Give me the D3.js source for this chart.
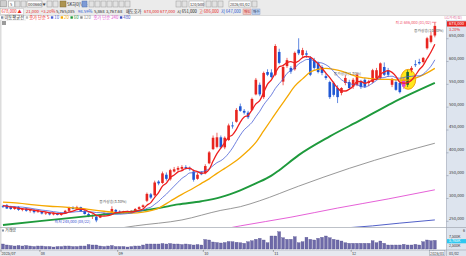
<!DOCTYPE html>
<html><head><meta charset="utf-8">
<script src="https://cdn.jsdelivr.net/npm/d3@7/dist/d3.min.js"></script>
<style>html,body{margin:0;padding:0;background:#fff}svg{display:block}text{font-family:"Noto Sans CJK KR","Noto Sans",sans-serif}</style>
</head><body><svg id="chart" width="466" height="256"></svg>
<script>
// ---------------- data ----------------
const monthKeys = ["2025-07","2025-08","2025-09","2025-10","2025-11","2025-12","2026-01"];
const monthDays = [
 [18,21,22,23,24,25,28,29,30,31],
 [1,4,5,6,7,8,11,12,13,14,18,19,20,21,22,25,26,27,28,29],
 [1,2,3,4,5,8,9,10,11,12,15,16,17,18,19,22,23,24,25,26,29,30],
 [1,2,10,13,14,15,16,17,20,21,22,23,24,27,28,29,30,31],
 [3,4,5,6,7,10,11,12,13,14,17,18,19,20,21,24,25,26,27,28],
 [1,2,3,4,5,8,9,10,11,12,15,16,17,18,19,22,23,24,26,29,30],
 [2]
];
const monthLabels = ["2025/07","08","09","10","11","12","2026/01"];
// prices in thousands of won
const openK = [283,285,281,277,281,275,278,273,275,270, 272,267,269,265,268,264,267,273,280,277,
 281,272,266,261,260,258,264,267,266,275, 271,269,272,269,273,277,281,295,309,307,
 337,334,352,342,359,363,365,369,367,359, 343,357,355,377,408,413,434,412,428,460,
 468,502,492,488,494,528,549,522,577,576, 571,621,556,590,586,583,626,614,618,608,
 603,597,588,568,555,553,542,531,553,555, 545,549,555,560,553,555,564,564,588,581,
 549,555,553,545,549,581,594,599,599,629, 643,657];
const highK = [286,288,284,283,283,279,280,277,277,275, 273,271,270,269,269,269,275,282,283,284,
 282,275,269,265,263,265,269,269,283,277, 274,273,273,274,279,283,287,313,312,339,
 340,359,357,365,369,371,373,373,370,363, 357,360,375,404,438,444,438,436,464,468,
 498,508,496,492,521,564,554,578,583,583, 638,628,593,608,590,622,651,630,624,612,
 608,600,592,574,558,556,548,544,570,560, 564,574,560,564,560,584,586,598,598,586,
 564,560,556,564,581,590,603,606,610,654, 665,686];
const lowK = [279,277,275,275,273,272,271,269,267,269, 265,264,263,263,263,262,266,272,276,275,
 271,265,259,255,248,257,262,263,265,269, 267,267,268,268,272,276,280,292,299,305,
 329,332,339,339,357,359,361,363,361,337, 341,351,353,375,406,410,410,408,426,453,
 466,490,484,474,492,526,524,518,568,563, 568,594,548,586,573,580,614,610,608,568,
 582,574,570,560,518,523,509,526,548,538, 540,546,540,542,546,552,560,560,568,566,
 544,536,530,540,544,576,588,593,596,626, 640,653];
const closeK = [282,278,277,281,275,277,273,275,270,272, 267,269,265,268,264,267,273,280,277,281,
 272,266,261,263,252,264,267,265,277,271, 269,272,269,273,277,281,285,310,302,335,
 333,355,343,362,364,367,369,367,364,341, 352,353,371,401,433,434,412,433,460,458,
 494,492,488,478,518,560,528,575,571,566, 634,597,588,603,578,619,618,625,615,571,
 586,577,575,564,522,527,522,542,564,542, 560,571,544,545,556,581,581,596,571,571,
 562,538,533,560,577,586,592,596,608,651, 657,678];
const priorCloseK = [285,283,281,284,282,283,287,286,284];
// volume in thousands of shares
const volK = [3330,2670,2330,2000,2330,2000,2330,2000,1670,2000, 2000,1670,1670,1330,1670,1670,2000,2000,1670,1670,
 2000,2000,3000,2670,2670,2000,1670,2000,2330,1670, 1670,1670,1330,1670,2000,2000,2670,3330,3330,3330,
 3330,3670,3330,3670,3330,3330,3000,3330,3000,2670, 3000,2670,6330,6000,4670,4330,4000,4330,5000,4870,
 4470,4200,3800,4870,5530,6470,7130,6000,4200,8670, 8670,11530,7530,6470,6470,8200,4200,4870,7800,6470,
 6000,7130,7800,8670,7530,6470,6000,5330,4200,3800, 3800,3800,3800,3800,3800,5530,4200,5330,3800,2670,
 2670,2670,2670,3130,2670,2670,3130,2670,4870,6000, 5530,5765];
// moving averages (day index, value in thousands)
const ma20Idx = [0,4,8,12,16,20,23,26,29,33,36,40,43,46,49,51,53,55,57,59,61,63,65,67,69,71,73,75,77,79,81,83,85,87,89,91,93,95,97,99,101,103,105,107,109,111];
const ma20K = [292,290,286,283,281,278,275,272,269,268,270,279,294,309,323,333,343,355,366,377,390,405,423,448,473,498,522,546,562,577,583,585,583,579,573,567,564,562,561,561,560,559,561,567,575,585];
const ma60Idx = [0,10,25,40,45,51,56,61,65,69,71,76,84,92,100,111];
const ma60K = [242,251,264,279,287,294,303,318,333,350,362,395,436,472,509,553];
const ma120Idx = [20,30,34,46,56,61,66,76,89,102,111];
const ma120K = [222,235,240,253,274,282,295,327,366,400,421];
const ma240Idx = [50,61,74,86,99,111];
const ma240K = [222,240,259,279,299,319];
const ma480Idx = [85,95,102,111];
const ma480K = [234,240,246,253];
const priceTicksK = [250,300,350,400,450,500,550,600,650];
const volTickLabels = ["7,500K","2,500K"];

// ---------------- drawing ----------------
const svg = d3.select("#chart");
const axX = 446.5, paneTop = 20, paneBot = 227.5, volTop = 228, dateTop = 250;
const COL = {up:"#e8251f", dn:"#1f57d4", ma5:"#ee2020", ma10:"#4a5fd6", ma20:"#f5a800", ma60:"#1e9a3c",
  ma120:"#8c8c8c", ma240:"#e24fd2", ma480:"#3d4ec2", vol:"#6e6aa8"};

const dates = monthKeys.flatMap((m,k)=>monthDays[k].map(d=>m+"-"+String(d).padStart(2,"0")));
const x = d3.scaleBand().domain(dates).range([1, 436.8]);
const xc = i => x(dates[i]) + x.bandwidth()/2;
const y = d3.scaleLinear().domain([250,650]).range([221.3,38.7]);
const yv = d3.scaleLinear().domain([0,12000]).range([249,231]);
const fmt = d3.format(",");

function T(g, xx, yy, s, o={}) {
  return g.append("text").attr("x",xx).attr("y",yy).text(s)
    .attr("font-size", o.fs||4.4).attr("fill", o.c||"#333")
    .attr("text-anchor", o.a||"start").attr("font-weight", o.w||"normal");
}
function R(g, xx, yy, w, h, f, s) {
  return g.append("rect").attr("x",xx).attr("y",yy).attr("width",w).attr("height",h)
    .attr("fill",f).attr("stroke",s||"none").attr("stroke-width",0.5);
}

// backgrounds
R(svg,0,0,466,256,"#fff");
R(svg,0,0,466,15.5,"#ebebeb");
svg.append("line").attr("x1",0).attr("x2",466).attr("y1",15.5).attr("y2",15.5).attr("stroke","#c9c9c9").attr("stroke-width",0.6);
R(svg,axX,20,466-axX,236,"#dde4ee");
R(svg,0,dateTop,axX,6,"#e6e9ef");
R(svg,0,20,1.5,230,"#dcdcdc");
svg.append("line").attr("x1",axX).attr("x2",axX).attr("y1",20).attr("y2",256).attr("stroke","#9aa3b3").attr("stroke-width",0.6);
svg.append("line").attr("x1",0).attr("x2",466).attr("y1",paneBot).attr("y2",paneBot).attr("stroke","#a0a6b0").attr("stroke-width",0.7);
svg.append("line").attr("x1",0).attr("x2",466).attr("y1",dateTop).attr("y2",dateTop).attr("stroke","#a0a6b0").attr("stroke-width",0.6);
svg.append("line").attr("x1",0).attr("x2",26).attr("y1",20).attr("y2",20).attr("stroke","#d8d8d8").attr("stroke-width",0.6);
R(svg,2,21,4,4,"#9a9a9a");

// toolbar row 1
const tb = svg.append("g");
R(tb,0.5,0.8,6,6,"#cfcfcf","#8a8a8a");
R(tb,8.5,1,6,6,"#fff","#999"); T(tb,10,5.8,"5",{fs:4});
R(tb,15,1,5,6,"#e0e0e0","#999");
R(tb,21,1,5,6,"#e0e0e0","#999");
R(tb,27,1,15,6,"#fff","#888"); T(tb,28,5.8,"000660",{fs:4.2,c:"#222"});
T(tb,42.5,5.6,"▼",{fs:3.2,c:"#444"});
R(tb,47,1,5,6,"#e4e4e4","#999"); R(tb,53,1,5,6,"#e4e4e4","#999");
R(tb,60,1,6,6,"#ad9450","#7d6a36");
T(tb,67,5.8,"SK하이닉스",{fs:4.2,c:"#222"});
R(tb,82,1,5,6,"#7d9ad6","#5570aa");
[89,95,101,107,113,119,125].forEach(px=>R(tb,px,1,5,6,"#e2e2e2","#9a9a9a"));
[176,182].forEach(px=>R(tb,px,1,5,6,"#e2e2e2","#9a9a9a"));
R(tb,189,1,15,6,"#fff","#999"); T(tb,190,5.8,"120/500",{fs:3.8,c:"#222"});
[206,212,218].forEach(px=>R(tb,px,1,5,6,"#e2e2e2","#9a9a9a"));
R(tb,229,1,22,6,"#fff","#999"); T(tb,230,5.8,"2026/01/02",{fs:3.8,c:"#222"});
R(tb,252,1,5,6,"#e2e2e2","#9a9a9a");
// toolbar row 2
R(tb,0.5,8.5,23,6,"#fff","#bbb");
T(tb,1.5,13.3,"678,000 ▲",{fs:4.2,c:COL.up});
T(tb,26,13.3,"21,000",{fs:4.2,c:COL.up});
T(tb,41,13.3,"+3.20%",{fs:4.2,c:COL.up});
T(tb,56,13.3,"5,765,085",{fs:4.2,c:"#222"});
T(tb,78,13.3,"98.59%",{fs:4.2,c:COL.dn});
T(tb,94,13.3,"5,868",{fs:4.2,c:"#222"});
T(tb,106,13.3,"3,767.68",{fs:4.2,c:"#222"});
T(tb,126,13.3,"매도호가",{fs:4.2,c:"#222"});
T(tb,144,13.3,"678,000",{fs:4.2,c:COL.up});
T(tb,160,13.3,"677,000",{fs:4.2,c:COL.up});
T(tb,177,13.3,"시 651,000",{fs:4.2,c:"#222"});
T(tb,199,13.3,"고 686,000",{fs:4.2,c:COL.up});
T(tb,221,13.3,"저 647,000",{fs:4.2,c:COL.dn});
R(tb,243,9,8,5.5,"#f3c7c4","#c98f8a"); T(tb,244,13.2,"매도",{fs:3.6,c:"#b22"});
R(tb,252,9,8,5.5,"#bcd0f0","#8aa0c8"); T(tb,253,13.2,"매수",{fs:3.6,c:"#235"});

// legend row
const lg = svg.append("g");
const legendItems = [
  {t:"이동평균선", c:"#333", sq:"#7f8fa6"},
  {t:"종가 단순 5", c:COL.ma5, sq:"#bbb"},
  {t:"10", c:COL.ma10, sq:COL.ma10},
  {t:"20", c:COL.ma20, sq:COL.ma20},
  {t:"60", c:COL.ma60, sq:COL.ma60},
  {t:"120", c:COL.ma120, sq:COL.ma120},
  {t:"종가 단순 240", c:COL.ma240, sq:null},
  {t:"480", c:COL.ma480, sq:COL.ma480}
];
let lx = 1;
legendItems.forEach(it=>{
  if (it.sq) { R(lg,lx,16.3,2.4,2.4,it.sq); lx += 3.4; } else lx += 1;
  const t = T(lg,lx,19.2,it.t,{fs:4.3,c:it.c});
  lx += t.node().getComputedTextLength() + 1.6;
});
T(svg,462,19,"LG가격(원)",{fs:3.8,c:"#e0709a",a:"end"});

// clip for price pane
svg.append("defs").append("clipPath").attr("id","pc").append("rect")
  .attr("x",1.5).attr("y",paneTop).attr("width",axX-1.5).attr("height",paneBot-paneTop-0.4);
const gp = svg.append("g").attr("clip-path","url(#pc)");

// highlight ellipse
gp.append("ellipse").attr("cx",xc(104)+0.6).attr("cy",y(561)).attr("rx",7.5).attr("ry",10)
  .attr("fill","#ffe81c").attr("stroke","#f09a00").attr("stroke-width",0.9);

// candles
const idx = d3.range(dates.length);
const candleCol = i => i===103 ? "#e03fd8" : i===104 ? "#17643a" : (closeK[i]>=openK[i] ? COL.up : COL.dn);
const bw = i => i===103 ? 3.4 : 2.6;
gp.selectAll("line.wick").data(idx).join("line").attr("class","wick")
  .attr("x1",xc).attr("x2",xc).attr("y1",i=>y(highK[i])).attr("y2",i=>y(lowK[i]))
  .attr("stroke",candleCol).attr("stroke-width",0.7);
gp.selectAll("rect.body").data(idx).join("rect").attr("class","body")
  .attr("x",i=>xc(i)-bw(i)/2).attr("width",bw)
  .attr("y",i=>y(Math.max(openK[i],closeK[i])))
  .attr("height",i=>Math.max(0.8,Math.abs(y(openK[i])-y(closeK[i]))))
  .attr("fill",candleCol);

// moving averages
const allClose = priorCloseK.concat(closeK);
const off = priorCloseK.length;
const rolling = n => idx.map(i=>[i, d3.mean(allClose.slice(i+off-n+1, i+off+1))]);
const line = d3.line().x(d=>xc(d[0])).y(d=>y(d[1])).curve(d3.curveMonotoneX);
const pairs = (a,b)=>a.map((v,k)=>[v,b[k]]);
const maDefs = [
  [pairs(ma480Idx,ma480K), COL.ma480, 0.9],
  [pairs(ma240Idx,ma240K), COL.ma240, 0.9],
  [pairs(ma120Idx,ma120K), COL.ma120, 0.9],
  [pairs(ma60Idx,ma60K), COL.ma60, 1.9],
  [pairs(ma20Idx,ma20K), COL.ma20, 1.3],
  [rolling(10), COL.ma10, 0.8],
  [rolling(5), COL.ma5, 1.3]
];
maDefs.forEach(([d,c,w])=>gp.append("path").attr("d",line(d)).attr("fill","none").attr("stroke",c).attr("stroke-width",w));

// annotations
T(svg, xc(24)-6, y(248)+0.8, "최저 248,000 (08/22)", {fs:3.9, c:"#3a4fd0", a:"end"});
T(svg, xc(111)-3.5, y(686)+1.6, "최고 686,000 (01/02)", {fs:3.9, c:"#f0506a", a:"end"});
svg.append("line").attr("x1",xc(111)-3).attr("x2",xc(111)+1.5).attr("y1",y(686)).attr("y2",y(686)).attr("stroke","#f0506a").attr("stroke-width",0.6);
T(svg, xc(28)+1, y(283)-3, "종가상승(3.30%)", {fs:3.8, c:"#555", a:"middle"});
T(svg, xc(88)+2, y(573)+1.5, "종가상승(1.30%)", {fs:3.8, c:"#666", a:"middle"});
T(svg, xc(111)-6, y(668)+1.2, "종가상승(10.30%)", {fs:3.8, c:"#555", a:"middle"});

// right price axis
priceTicksK.forEach(v=>{
  svg.append("line").attr("x1",axX).attr("x2",axX+2).attr("y1",y(v)).attr("y2",y(v)).attr("stroke","#7a8496").attr("stroke-width",0.5);
  T(svg, axX+2.5, y(v)-1.6, fmt(v*1000), {fs:4.2, c:"#333"});
});
const last = closeK[closeK.length-1];
R(svg, axX+0.5, y(last)-4.6, 466-axX-0.5, 5.2, "#e8251f");
T(svg, axX+2.5, y(last)-0.6, fmt(last*1000), {fs:4.2, c:"#fff"});
T(svg, axX+2.5, y(last)+4.6, "3.20%", {fs:3.8, c:"#e8251f"});

// volume pane
R(svg,2,229.5,2,2,"#7f8fa6");
T(svg,5,232.3,"거래량",{fs:4,c:"#333"});
T(svg,463,231.5,"6",{fs:3.6,c:"#333"});
svg.selectAll("rect.vol").data(idx).join("rect").attr("class","vol")
  .attr("x",i=>xc(i)-1.45).attr("width",2.9)
  .attr("y",i=>yv(volK[i])).attr("height",i=>yv(0)-yv(volK[i]))
  .attr("fill",COL.vol).attr("stroke","#4f4b8c").attr("stroke-width",0.3);
T(svg, axX+2.5, 238.3, volTickLabels[0], {fs:3.6, c:"#333"});
const lastV = volK[volK.length-1];
R(svg, axX+0.5, 239.1, 466-axX-0.5, 4.2, "#2ec8f0");
T(svg, axX+2.5, 242.4, fmt(lastV)+"K", {fs:3.6, c:"#fff"});
T(svg, axX+2.5, 247.4, volTickLabels[1], {fs:3.6, c:"#333"});

// date axis
let start = 0;
monthDays.forEach((days,k)=>{
  const px = x(dates[start]);
  svg.append("line").attr("x1",px).attr("x2",px).attr("y1",dateTop).attr("y2",dateTop+1.8).attr("stroke","#555").attr("stroke-width",0.5);
  if (k === monthDays.length-1) {
    R(svg, px-3.5, dateTop+0.6, 15.5, 5, "#f4f6fa", "#8a93a3");
    T(svg, px-2.8, 255, monthLabels[k], {fs:3.8, c:"#333"});
  } else {
    T(svg, px+(k===0?0.5:0.8), 255.2, monthLabels[k], {fs:3.8, c:"#333"});
  }
  start += days.length;
});
T(svg, axX+2.5, 255.2, "01/02", {fs:3.8, c:"#333"});
</script></body></html>
